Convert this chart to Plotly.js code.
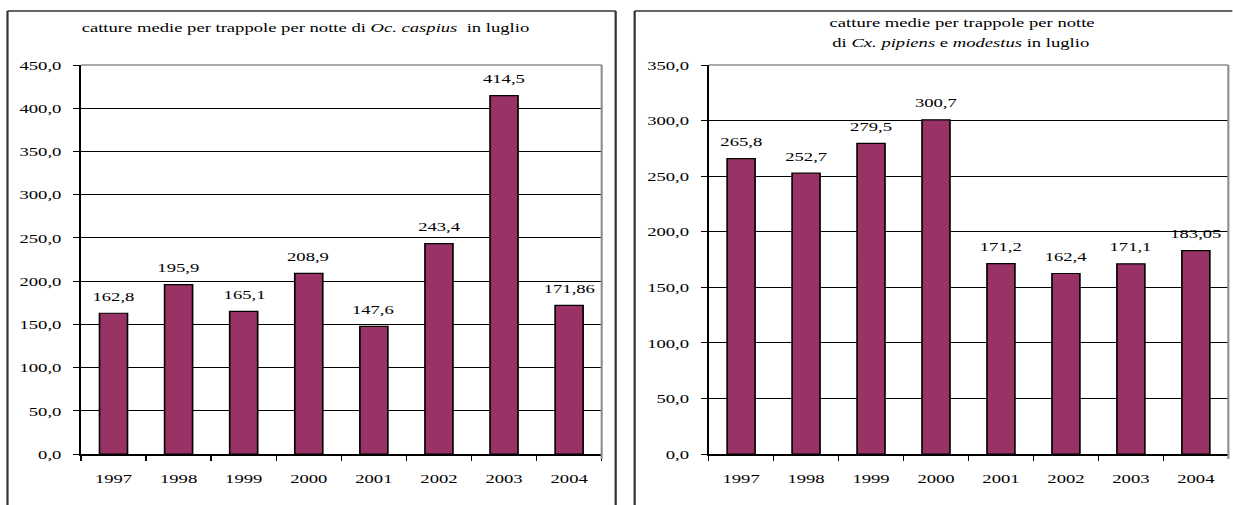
<!DOCTYPE html>
<html><head><meta charset="utf-8">
<script src="https://cdn.plot.ly/plotly-3.0.1.min.js"></script>
<style>
html,body{margin:0;padding:0;background:#fff;overflow:hidden;}
#wrap{width:1233px;height:505px;overflow:hidden;position:relative;background:#fff;}
#chart{position:absolute;left:0;top:0;height:505px;transform-origin:0 0;}
</style></head><body><div id="wrap"><div id="chart"></div></div>
<script>
// ---- data ----
const years = ['1997','1998','1999','2000','2001','2002','2003','2004'];
const caspius = [162.8, 195.9, 165.1, 208.9, 147.6, 243.4, 414.5, 171.86];
const pipiens = [265.8, 252.7, 279.5, 300.7, 171.2, 162.4, 171.1, 183.05];
const titleLeft = 'catture medie per trappole per notte di <i>Oc. caspius</i>  in luglio';
const titleRight1 = 'catture medie per trappole per notte';
const titleRight2 = 'di <i>Cx. pipiens</i> e <i>modestus</i> in luglio';

// ---- geometry (target pixels) ----
const SX = 1.38, FW = 1233, FH = 505;
const W = FW / SX;
const px = x => x / FW;
const py = y => 1 - y / FH;
const FONT = 'Liberation Serif, Times New Roman, serif';
const FS = 13.5;
const BAR = '#993366';

const lbl = v => String(v).replace('.', ',');

const traces = [
  {type:'bar', orientation:'v', x: years, y: caspius, xaxis:'x', yaxis:'y', width:0.43,
   marker:{color:BAR, line:{color:'#000', width:1.2}}, hoverinfo:'none'},
  {type:'bar', orientation:'v', x: years, y: pipiens, xaxis:'x2', yaxis:'y2', width:0.43,
   marker:{color:BAR, line:{color:'#000', width:1.2}}, hoverinfo:'none'}
];

const xBase = {type:'category', categoryorder:'array', categoryarray: years,
  range:[-0.5, years.length - 0.5], autorange:false, tickangle:0,
  showline:true, linecolor:'#000', linewidth:1.5,
  ticks:'outside', tickson:'boundaries', ticklen:5, tickcolor:'#000', tickwidth:1,
  showgrid:false, zeroline:false, fixedrange:true, ticklabelstandoff:11,
  tickfont:{family:FONT, size:FS, color:'#000'}};
const yBase = {showline:true, linecolor:'#000', linewidth:1.5, ticks:'outside',
  ticklen:4, tickcolor:'#000', tickwidth:1, showgrid:true, gridcolor:'#000', gridwidth:1,
  zeroline:false, tickformat:'.1f', dtick:50, tick0:0, autorange:false, fixedrange:true, ticklabelstandoff:6,
  tickfont:{family:FONT, size:FS, color:'#000'}};

const ann = [];
caspius.forEach((v,i)=>ann.push({x:i, y:v, xref:'x', yref:'y', text:lbl(v),
  showarrow:false, yanchor:'middle', yshift:17, font:{family:FONT,size:FS,color:'#000'}}));
pipiens.forEach((v,i)=>ann.push({x:i, y:v, xref:'x2', yref:'y2', text:lbl(v),
  showarrow:false, yanchor:'middle', yshift:17, font:{family:FONT,size:FS,color:'#000'}}));
ann.push({xref:'paper', yref:'paper', x:px(306), y:py(27), text:titleLeft, showarrow:false,
  xanchor:'center', yanchor:'middle', font:{family:FONT,size:FS,color:'#000'}});
ann.push({xref:'paper', yref:'paper', x:px(962), y:py(22), text:titleRight1, showarrow:false,
  xanchor:'center', yanchor:'middle', font:{family:FONT,size:FS,color:'#000'}});
ann.push({xref:'paper', yref:'paper', x:px(962), y:py(43), text:titleRight2, showarrow:false,
  xanchor:'center', yanchor:'middle', font:{family:FONT,size:FS,color:'#000'}});

const dark = {color:'#333', width:1.6};
const gray = {color:'#8c8c8c', width:1.5};
const TOP = 65, BOT = 454;
const shapes = [
  {type:'line', xref:'paper', yref:'paper', x0:px(7.5), x1:px(7.5), y0:py(11), y1:py(520), line:dark},
  {type:'line', xref:'paper', yref:'paper', x0:px(7.5), x1:px(616), y0:py(11), y1:py(11), line:dark},
  {type:'line', xref:'paper', yref:'paper', x0:px(616), x1:px(616), y0:py(11), y1:py(520), line:dark},
  {type:'line', xref:'paper', yref:'paper', x0:px(635), x1:px(635), y0:py(11), y1:py(520), line:dark},
  {type:'line', xref:'paper', yref:'paper', x0:px(635), x1:px(1240), y0:py(11), y1:py(11), line:dark},
  {type:'line', xref:'paper', yref:'paper', x0:px(81), x1:px(602), y0:py(TOP), y1:py(TOP), line:gray, layer:'above'},
  {type:'line', xref:'paper', yref:'paper', x0:px(602), x1:px(602), y0:py(TOP), y1:py(BOT+5), line:gray, layer:'above'},
  {type:'line', xref:'paper', yref:'paper', x0:px(709), x1:px(1229), y0:py(TOP), y1:py(TOP), line:gray, layer:'above'},
  {type:'line', xref:'paper', yref:'paper', x0:px(1229), x1:px(1229), y0:py(TOP), y1:py(BOT+5), line:gray, layer:'above'}
];

const layout = {
  width: W, height: FH, margin:{l:0,r:0,t:0,b:0},
  paper_bgcolor:'#fff', plot_bgcolor:'#fff', showlegend:false,
  separators:', ', barmode:'group',
  xaxis: Object.assign({}, xBase, {domain:[px(81), px(602)], anchor:'y'}),
  yaxis: Object.assign({}, yBase, {domain:[py(BOT), py(TOP)], range:[0,450], anchor:'x'}),
  xaxis2: Object.assign({}, xBase, {domain:[px(709), px(1229)], anchor:'y2'}),
  yaxis2: Object.assign({}, yBase, {domain:[py(BOT), py(TOP)], range:[0,350], anchor:'x2'}),
  annotations: ann, shapes: shapes
};

const el = document.getElementById('chart');
el.style.width = W + 'px';
el.style.transform = 'scaleX(' + SX + ')';
Plotly.newPlot(el, traces, layout, {staticPlot:true, displayModeBar:false});
</script></body></html>
